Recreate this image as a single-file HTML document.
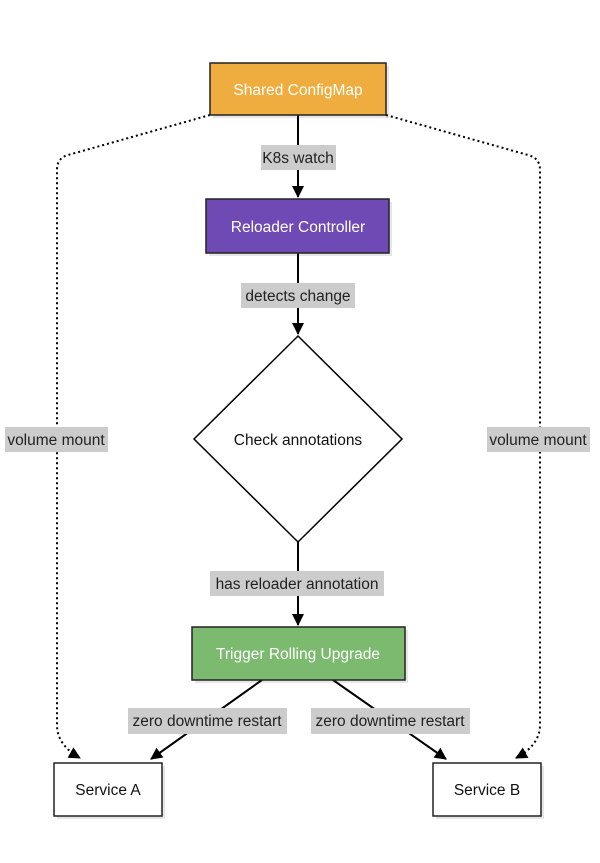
<!DOCTYPE html>
<html><head><style>
body{margin:0;background:#fff;}
svg text{font-family:"Liberation Sans",Arial,sans-serif;font-size:15.5px;}
</style></head><body>
<svg width="600" height="858" viewBox="0 0 600 858" xmlns="http://www.w3.org/2000/svg">
<defs>
<marker id="a" markerWidth="12" markerHeight="12" refX="11" refY="6" orient="auto" markerUnits="userSpaceOnUse" viewBox="0 0 12 12">
<path d="M0,0 L12,6 L0,12 z" fill="#000"/></marker>
</defs>
<g fill="#e6e6e6">
<rect x="213" y="66" width="176" height="52"/>
<rect x="209" y="202" width="183" height="54"/>
<rect x="195" y="630" width="213" height="53"/>
<rect x="57" y="766" width="108" height="53"/>
<rect x="436" y="766" width="108" height="53"/>
</g>
<g fill="none" stroke="#000" stroke-width="2" stroke-dasharray="2,3">
<path d="M210,115 L68,155 Q57,158 57,170 L57,725 Q57,745 80,758" marker-end="url(#a)"/>
<path d="M386,115 L528,155 Q540,158 540,170 L540,725 Q540,745 516,758" marker-end="url(#a)"/>
</g>
<g fill="none" stroke="#000" stroke-width="2">
<line x1="298" y1="115" x2="298" y2="197" marker-end="url(#a)"/>
<line x1="298" y1="253" x2="298" y2="334" marker-end="url(#a)"/>
<line x1="298" y1="542" x2="298" y2="625" marker-end="url(#a)"/>
<line x1="262" y1="680" x2="151" y2="759" marker-end="url(#a)"/>
<line x1="333" y1="680" x2="446" y2="759" marker-end="url(#a)"/>
</g>
<rect x="210" y="63" width="176" height="52" fill="#f0ad3f" stroke="#222" stroke-width="1.5"/>
<text x="298" y="95" text-anchor="middle" fill="#fff">Shared ConfigMap</text>
<rect x="206" y="199" width="183" height="54" fill="#6f4ab5" stroke="#222" stroke-width="1.5"/>
<text x="298" y="232" text-anchor="middle" fill="#fff">Reloader Controller</text>
<polygon points="298,336 402,439 298,542 194,439" fill="#fff" stroke="#000" stroke-width="1.5"/>
<text x="298" y="445" text-anchor="middle" fill="#111">Check annotations</text>
<rect x="192" y="627" width="213" height="53" fill="#7cba6f" stroke="#222" stroke-width="1.5"/>
<text x="298" y="659" text-anchor="middle" fill="#fff">Trigger Rolling Upgrade</text>
<rect x="54" y="763" width="108" height="53" fill="#fff" stroke="#222" stroke-width="1.5"/>
<text x="108" y="795" text-anchor="middle" fill="#111">Service A</text>
<rect x="433" y="763" width="108" height="53" fill="#fff" stroke="#222" stroke-width="1.5"/>
<text x="487" y="795" text-anchor="middle" fill="#111">Service B</text>
<g fill="#cccccc">
<rect x="261" y="145" width="75" height="25"/>
<rect x="241" y="283" width="114" height="25"/>
<rect x="5" y="427" width="103" height="25"/>
<rect x="487" y="427" width="103" height="25"/>
<rect x="210" y="571" width="174" height="25"/>
<rect x="128" y="708" width="159" height="26"/>
<rect x="311" y="708" width="159" height="26"/>
</g>
<g fill="#222" text-anchor="middle">
<text x="298" y="163">K8s watch</text>
<text x="298" y="301">detects change</text>
<text x="56" y="445">volume mount</text>
<text x="538" y="445">volume mount</text>
<text x="297" y="589">has reloader annotation</text>
<text x="207" y="726">zero downtime restart</text>
<text x="390" y="726">zero downtime restart</text>
</g>
</svg>
</body></html>
